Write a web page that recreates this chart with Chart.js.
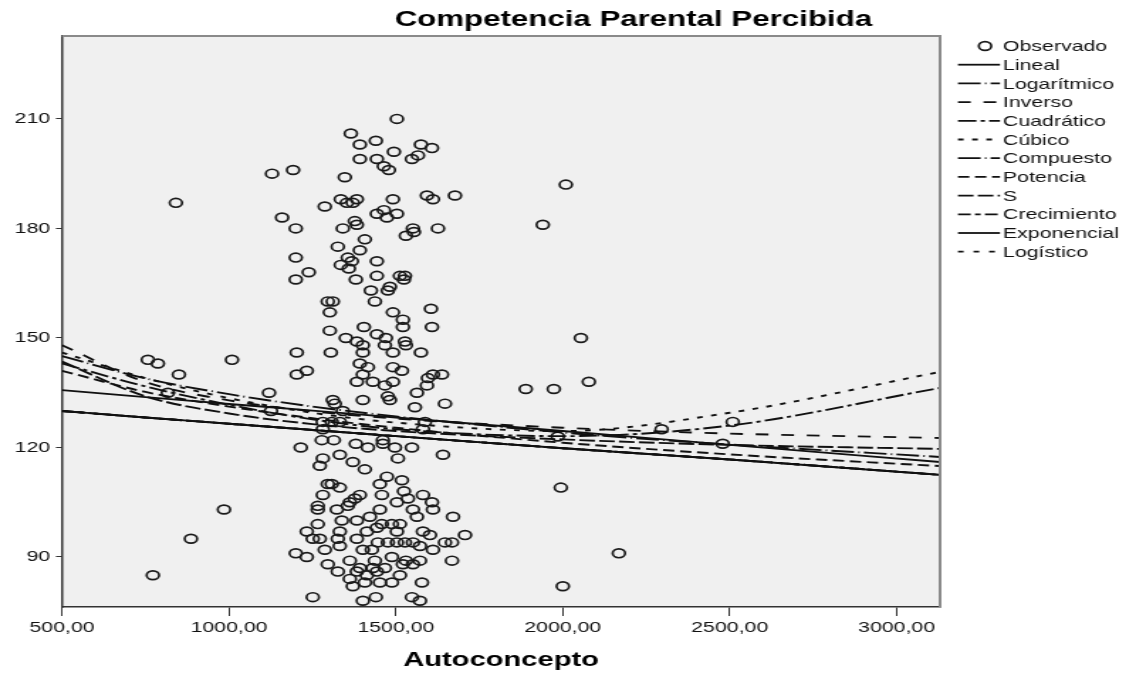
<!DOCTYPE html>
<html>
<head>
<meta charset="utf-8">
<title>Competencia Parental Percibida</title>
<script src="https://cdn.jsdelivr.net/npm/chart.js@4.4.1/dist/chart.umd.min.js"></script>
<style>
  html, body { margin: 0; padding: 0; background: #fff; overflow: hidden; }
  #wrap { width: 1130px; height: 675px; overflow: hidden; }
  /* the chart is drawn narrow and stretched sideways, like the SPSS export */
  #curve-chart { display: block; transform: scale(1.42, 1); transform-origin: 0 0; }
</style>
</head>
<body>
<div id="wrap"><canvas id="curve-chart" width="796" height="675"></canvas></div>
<script>
var FONT = "'Liberation Sans', Arial, sans-serif";

// Observed cases: Autoconcepto (x) and Competencia Parental Percibida (y)
var autoconcepto = [
  772, 886, 985, 841, 757, 787, 850, 1009, 817, 1120, 1126, 1129, 1192, 1159, 1200, 1200, 1200, 1203, 1203, 1215, 1200,
  2009, 1940, 2054, 1889, 1973, 2078, 1985, 1994, 2000, 2168, 2296, 2509, 2479,
  1503, 1365, 1392, 1440, 1494, 1575, 1608, 1566, 1548, 1392, 1443, 1464, 1479, 1347, 1335, 1353, 1383, 1371, 1287,
  1491, 1593, 1611, 1677, 1443, 1464, 1473, 1503, 1377, 1383, 1341, 1551, 1626,
  1530, 1554, 1407, 1326, 1392, 1356, 1368, 1335, 1443, 1359, 1239, 1380, 1443, 1512, 1527, 1524, 1482, 1425, 1476,
  1311, 1296, 1302, 1437, 1605, 1491, 1521, 1521, 1608, 1302, 1404, 1350, 1443, 1470, 1383, 1527, 1467, 1401,
  1305, 1401, 1491, 1530, 1575, 1392, 1416, 1401, 1491, 1518, 1233, 1611, 1638, 1596, 1383, 1431, 1491, 1467, 1476,
  1482, 1593, 1563, 1401, 1311, 1317, 1647, 1557, 1341, 1281, 1332, 1308, 1587, 1581, 1281, 1278, 1314, 1461, 1461,
  1380, 1416, 1497, 1548, 1281, 1332, 1371, 1506, 1641, 1272, 1407,
  1296, 1308, 1332, 1452, 1473, 1518, 1524, 1281, 1392, 1377, 1362, 1458, 1503, 1536, 1581, 1608, 1266, 1266, 1323,
  1356, 1452, 1551, 1611, 1671, 1563, 1422, 1266, 1338, 1383, 1458, 1488, 1512, 1233, 1332, 1413, 1443, 1503, 1581,
  1602, 1707, 1251, 1272, 1326, 1383, 1446, 1476, 1503, 1527, 1551, 1647, 1668, 1572, 1287, 1332, 1401, 1428, 1611,
  1233, 1362, 1437, 1488, 1530, 1572, 1668, 1296, 1392, 1431, 1467, 1521, 1551, 1326, 1383, 1443, 1512, 1362, 1413,
  1371, 1407, 1452, 1488, 1578, 1251, 1401, 1440, 1548, 1572
];
var competencia = [
  85, 95, 103, 187, 144, 143, 140, 144, 135, 135, 130, 195, 196, 183, 180, 172, 166, 146, 140, 120, 91,
  192, 181, 150, 136, 136, 138, 123, 109, 82, 91, 125, 127, 121,
  210, 206, 203, 204, 201, 203, 202, 200, 199, 199, 199, 197, 196, 194, 188, 187, 188, 187, 186,
  188, 189, 188, 189, 184, 185, 183, 184, 182, 181, 180, 180, 180,
  178, 179, 177, 175, 174, 172, 171, 170, 171, 169, 168, 166, 167, 167, 167, 166, 164, 163, 163,
  160, 160, 157, 160, 158, 157, 155, 153, 153, 152, 153, 150, 151, 150, 149, 149, 148, 148,
  146, 146, 146, 148, 146, 143, 142, 140, 142, 141, 141, 140, 140, 139, 138, 138, 138, 137, 134,
  133, 137, 135, 133, 133, 132, 132, 131, 130, 127, 127, 127, 127, 125, 125, 122, 122, 122, 121,
  121, 120, 120, 120, 117, 118, 116, 117, 118, 115, 114,
  110, 110, 109, 110, 112, 111, 108, 107, 107, 106, 105, 107, 105, 106, 107, 105, 104, 103, 103,
  104, 103, 103, 103, 101, 101, 101, 99, 100, 100, 99, 99, 99, 97, 97, 97, 98, 97, 97,
  96, 96, 95, 95, 95, 95, 94, 94, 94, 94, 94, 94, 94, 93, 92, 93, 92, 92, 92,
  90, 89, 89, 90, 89, 89, 89, 88, 87, 87, 87, 88, 88, 86, 86, 86, 85, 84, 85,
  82, 83, 83, 83, 83, 79, 78, 79, 79, 78
];

// Fitted curves, read at these Autoconcepto values
var curveX = [500, 750, 1000, 1250, 1500, 2000, 2500, 3130];
var lineal      = [135.7, 133.8, 131.9, 130.1, 128.2, 124.5, 120.7, 116.0];
var logaritmico = [145.0, 138.9, 134.6, 131.2, 128.5, 124.1, 120.8, 117.4];
var inverso     = [148.0, 137.9, 132.9, 129.9, 127.9, 125.4, 123.8, 122.6];
var cuadratico  = [143.0, 136.7, 131.7, 127.7, 125.0, 123.1, 126.0, 136.3];
var cubico      = [146.0, 139.0, 133.5, 129.5, 126.8, 124.5, 129.5, 140.7];
var compuesto   = [130.0, 128.2, 126.5, 124.8, 123.1, 119.8, 116.7, 112.5];
var potencia    = [141.0, 135.2, 131.2, 128.0, 125.4, 121.3, 118.1, 114.9];
var curvaS      = [143.5, 134.0, 129.3, 126.4, 124.5, 122.2, 120.7, 119.6];
var crecimiento = [130.0, 128.2, 126.5, 124.8, 123.1, 119.8, 116.7, 112.5];
var exponencial = [130.0, 128.2, 126.5, 124.8, 123.1, 119.8, 116.7, 112.5];
var logistico   = [130.0, 128.2, 126.5, 124.8, 123.1, 119.8, 116.7, 112.5];

var xTicks = [500, 1000, 1500, 2000, 2500, 3000];
var yTicks = [90, 120, 150, 180, 210];

var models = [
  { label: 'Lineal',      values: lineal,      dash: [] },
  { label: 'Logarítmico', values: logaritmico, dash: [16, 3, 1, 3] },
  { label: 'Inverso',     values: inverso,     dash: [9, 9] },
  { label: 'Cuadrático',  values: cuadratico,  dash: [13, 3, 3, 3] },
  { label: 'Cúbico',      values: cubico,      dash: [4, 6] },
  { label: 'Compuesto',   values: compuesto,   dash: [16, 3, 1, 3] },
  { label: 'Potencia',    values: potencia,    dash: [8, 4] },
  { label: 'S',           values: curvaS,      dash: [11, 3] },
  { label: 'Crecimiento', values: crecimiento, dash: [9, 3, 4, 3] },
  { label: 'Exponencial', values: exponencial, dash: [] },
  { label: 'Logístico',   values: logistico,   dash: [4, 7] }
];

function buildDatasets() {
  var sets = models.map(function(m) {
    return {
      type: 'line',
      label: m.label,
      data: curveX.map(function(x, i) { return { x: x, y: m.values[i] }; }),
      borderColor: '#111',
      borderWidth: 1.9,
      borderDash: m.dash,
      pointRadius: 0,
      fill: false,
      cubicInterpolationMode: 'monotone'
    };
  });
  sets.push({
    type: 'scatter',
    label: 'Observado',
    data: autoconcepto.map(function(x, i) { return { x: x, y: competencia[i] }; }),
    pointStyle: 'circle',
    pointRadius: 4.4,
    pointBorderWidth: 1.7,
    pointBorderColor: '#1a1a1a',
    pointBackgroundColor: 'rgba(0,0,0,0)'
  });
  return sets;
}

// grey plot background and the lighter top/right frame
var framePlugin = {
  id: 'frame',
  beforeDraw: function(chart) {
    var a = chart.chartArea, c = chart.ctx;
    c.save();
    c.fillStyle = '#f0f0f0';
    c.fillRect(a.left, a.top, a.right - a.left, a.bottom - a.top);
    c.restore();
  },
  afterDraw: function(chart) {
    var a = chart.chartArea, c = chart.ctx;
    c.save();
    c.strokeStyle = '#8a8a8a';
    c.lineWidth = 2;
    c.beginPath();
    c.moveTo(a.left, a.top);
    c.lineTo(a.right, a.top);
    c.lineTo(a.right, a.bottom);
    c.stroke();
    c.restore();
  }
};

// chart title, x axis title and the legend on the right
var textPlugin = {
  id: 'texts',
  afterDraw: function(chart) {
    var c = chart.ctx;
    c.save();
    c.fillStyle = '#000';
    c.textAlign = 'center';
    c.textBaseline = 'alphabetic';
    c.font = 'bold 22px ' + FONT;
    c.fillText('Competencia Parental Percibida', 446, 26);
    c.font = 'bold 20.5px ' + FONT;
    c.fillText('Autoconcepto', (chart.chartArea.left + chart.chartArea.right) / 2, 666);

    var rowY = 46, step = 18.7;
    c.font = '15px ' + FONT;
    c.textAlign = 'left';
    c.textBaseline = 'middle';
    c.fillStyle = '#111';

    // observed marker
    c.strokeStyle = '#1a1a1a';
    c.lineWidth = 1.7;
    c.beginPath();
    c.arc(693.7, rowY, 4.4, 0, Math.PI * 2);
    c.stroke();
    c.fillText('Observado', 706.3, rowY + 1);

    models.forEach(function(m, i) {
      var y = rowY + step * (i + 1);
      c.setLineDash(m.dash);
      c.lineWidth = 1.8;
      c.strokeStyle = '#111';
      c.beginPath();
      c.moveTo(674.6, y);
      c.lineTo(704.2, y);
      c.stroke();
      c.setLineDash([]);
      c.fillText(m.label, 706.3, y + 1);
    });
    c.restore();
  }
};

var ctx = document.getElementById('curve-chart').getContext('2d');
var curveChart = new Chart(ctx, {
  type: 'scatter',
  data: { datasets: buildDatasets() },
  options: {
    responsive: false,
    animation: false,
    events: [],
    layout: { padding: { left: 0, right: 134, top: 36, bottom: 0 } },
    plugins: {
      legend: { display: false },
      tooltip: { enabled: false }
    },
    scales: {
      x: {
        type: 'linear',
        min: 500,
        max: 3130,
        border: { color: '#333', width: 1.5 },
        grid: { drawOnChartArea: false, tickLength: 9, color: '#333', lineWidth: 1 },
        ticks: {
          color: '#111',
          padding: 3,
          maxRotation: 0,
          font: { family: FONT, size: 15 },
          callback: function(v) { return v.toFixed(2).replace('.', ','); }
        },
        afterBuildTicks: function(s) { s.ticks = xTicks.map(function(v) { return { value: v }; }); },
        afterFit: function(s) { s.height = 68; }
      },
      y: {
        type: 'linear',
        min: 76.3,
        max: 232.7,
        border: { color: '#333', width: 1.5 },
        grid: { drawOnChartArea: false, tickLength: 4.3, color: '#333', lineWidth: 1 },
        ticks: {
          color: '#111',
          padding: 4,
          font: { family: FONT, size: 15 }
        },
        afterBuildTicks: function(s) { s.ticks = yTicks.map(function(v) { return { value: v }; }); },
        afterFit: function(s) { s.width = 43.7; }
      }
    }
  },
  plugins: [framePlugin, textPlugin]
});
</script>
</body>
</html>
